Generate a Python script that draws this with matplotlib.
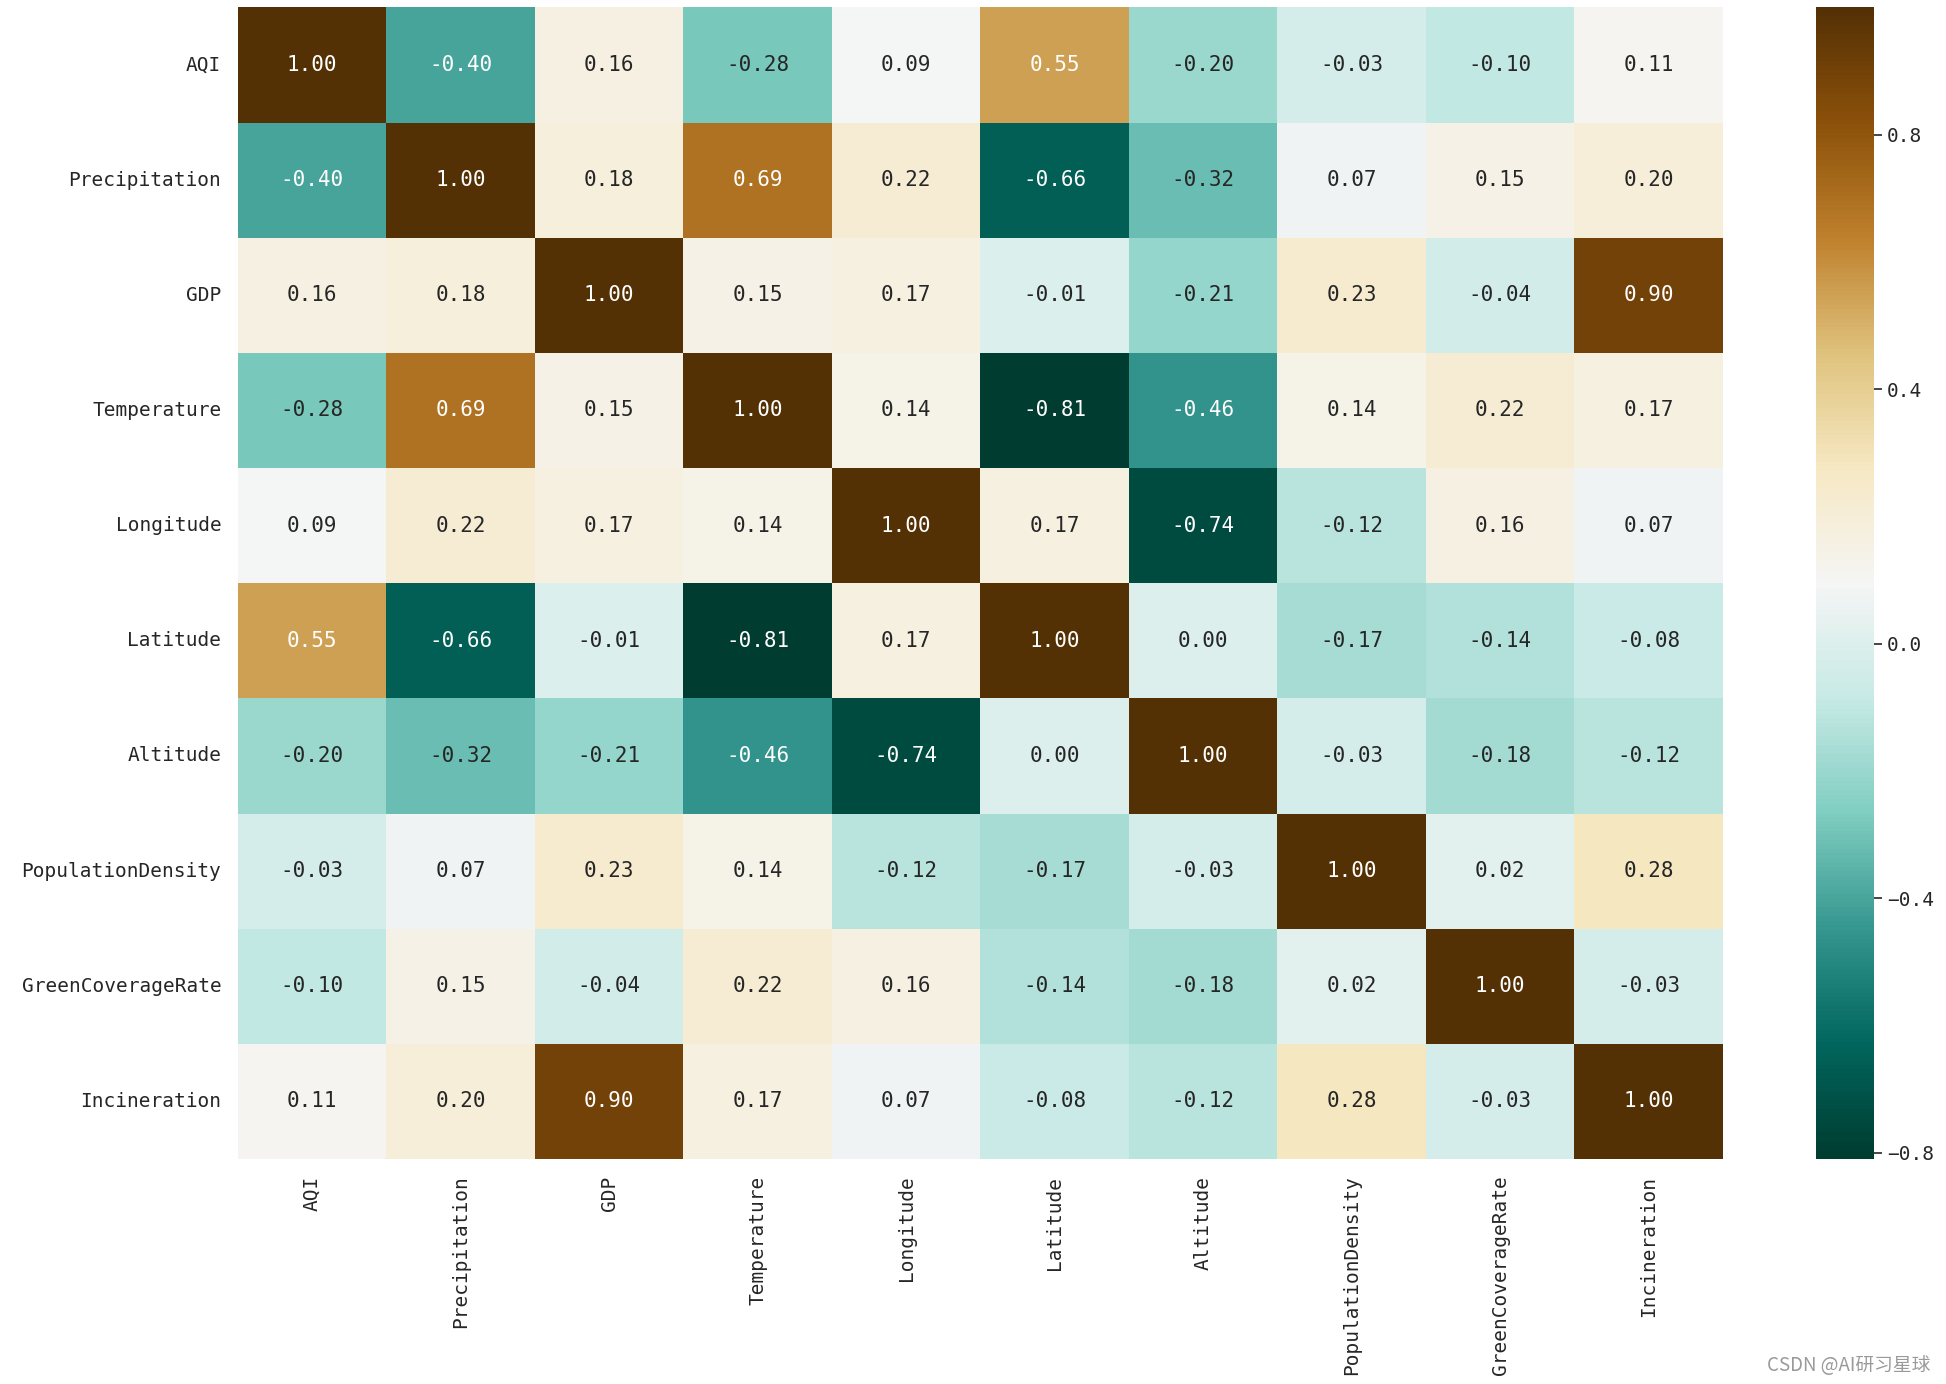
import numpy as np
import pandas as pd
import matplotlib
matplotlib.use("Agg")
import matplotlib.pyplot as plt
import seaborn as sns

labels = ["AQI", "Precipitation", "GDP", "Temperature", "Longitude", "Latitude",
          "Altitude", "PopulationDensity", "GreenCoverageRate", "Incineration"]

row_aqi = [1.00, -0.40, 0.16, -0.28, 0.09, 0.55, -0.20, -0.03, -0.10, 0.11]
row_precip = [-0.40, 1.00, 0.18, 0.69, 0.22, -0.66, -0.32, 0.07, 0.15, 0.20]
row_gdp = [0.16, 0.18, 1.00, 0.15, 0.17, -0.01, -0.21, 0.23, -0.04, 0.90]
row_temp = [-0.28, 0.69, 0.15, 1.00, 0.14, -0.81, -0.46, 0.14, 0.22, 0.17]
row_long = [0.09, 0.22, 0.17, 0.14, 1.00, 0.17, -0.74, -0.12, 0.16, 0.07]
row_lat = [0.55, -0.66, -0.01, -0.81, 0.17, 1.00, 0.00, -0.17, -0.14, -0.08]
row_alt = [-0.20, -0.32, -0.21, -0.46, -0.74, 0.00, 1.00, -0.03, -0.18, -0.12]
row_pop = [-0.03, 0.07, 0.23, 0.14, -0.12, -0.17, -0.03, 1.00, 0.02, 0.28]
row_green = [-0.10, 0.15, -0.04, 0.22, 0.16, -0.14, -0.18, 0.02, 1.00, -0.03]
row_incin = [0.11, 0.20, 0.90, 0.17, 0.07, -0.08, -0.12, 0.28, -0.03, 1.00]

corr = pd.DataFrame([row_aqi, row_precip, row_gdp, row_temp, row_long, row_lat,
                     row_alt, row_pop, row_green, row_incin],
                    index=labels, columns=labels)

sns.set_theme(style="darkgrid")
plt.rcParams['font.family'] = ['DejaVu Sans Mono', 'Noto Sans CJK SC']

fig = plt.figure(figsize=(19.46, 13.84), dpi=100)
ax = fig.add_axes([0.1223, 0.1626, 0.7631, 0.832])
cax = fig.add_axes([0.933, 0.1626, 0.0298, 0.832])

sns.heatmap(corr, annot=True, fmt=".2f", cmap="BrBG_r", ax=ax, cbar_ax=cax,
            annot_kws={"fontsize": 15})

ax.set_xticklabels(labels, rotation=90, fontsize=14)
ax.set_yticklabels(labels, rotation=0, fontsize=14)
ax.tick_params(axis='both', length=0, pad=12)
cax.tick_params(labelsize=14, length=6, width=1.2, color='.15')
cax.set_yticks([-0.8, -0.4, 0.0, 0.4, 0.8])

fig.text(0.992, 0.006, "CSDN @AI研习星球", ha='right', va='bottom', fontsize=13.5,
         color='#9a9a9a', family=['Noto Sans CJK SC', 'DejaVu Sans'])

fig.savefig("out.png", dpi=100, facecolor='white')
